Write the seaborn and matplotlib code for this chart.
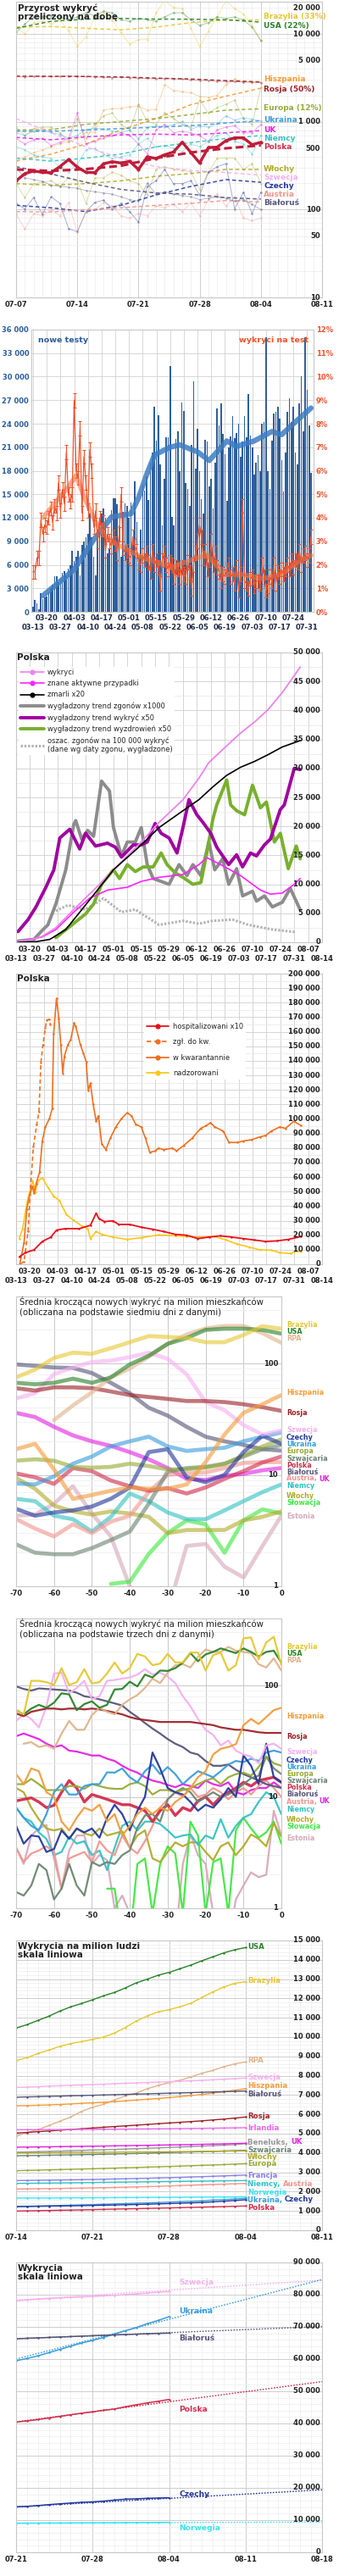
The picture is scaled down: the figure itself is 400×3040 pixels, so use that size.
import matplotlib
matplotlib.use("Agg")
import numpy as np
import pandas as pd
import matplotlib.pyplot as plt
import matplotlib.dates as mdates
import matplotlib.ticker as mticker
import matplotlib.transforms as mtransforms
from matplotlib.lines import Line2D
import seaborn as sns

W, H = 400, 3040

# ---------------- panel 1: daily new cases (log) ----------------
p1_start = "2020-07-07"
p1_brazylia = [12000, 10000, 13500, 14000, 13000, 14500, 11000, 7200, 9300, 15700, 17500, 14500, 10400, 7700, 8650,
               8650, 17500, 24000, 20000, 19500, 11650, 7200, 10800, 15700, 24000, 19500, 16900, 12500, 8650]
p1_brazylia_tr = [12000, 12200, 11650, 11200, 12000, 13500, 14500, 14500]
p1_usa = [10400, 13000, 15700, 15700, 16200, 15700, 14550, 15700, 17500, 16200, 18160, 17500, 14550, 14000, 15100,
          14550, 14000, 15700, 17500, 17500, 14550, 12540, 13500, 15700, 15100, 15700, 14550, 12000, 8400]
p1_usa_tr = [11650, 14000, 14800, 15100, 14800, 14800, 14550, 13700]
p1_hiszpania = [358, 400, 448, 480, 520, 560, 600, 650, 760, 760, 1360, 1410, 1430, 1480, 1510,
                1360, 1380, 2650, 2280, 2200, 2150, 1950, 1900, 2000, 2650, 3070, 2850, 2850, 2850]
p1_hiszpania_tr = [358, 430, 560, 810, 1090, 1570, 1960, 2420]
p1_rosja = [3300, 3250, 3300, 3300, 3280, 3300, 3320, 3300, 3280, 3250, 3230, 3200, 3220, 3180, 3150,
            3130, 3100, 3120, 3100, 3070, 3000, 2980, 2950, 2900, 2900, 2870, 2860, 2830, 2800]
p1_rosja_tr = [3320, 3300, 3290, 3250, 3150, 3080, 2950, 2850]
p1_europa = [871, 698, 840, 871, 871, 751, 601, 1090, 648, 938, 1170, 1260, 938, 809, 1580,
             1010, 938, 1260, 1090, 938, 871, 1770, 1260, 1460, 1580, 1770, 1090, 938, 2460]
p1_europa_tr = [809, 815, 938, 1010, 1090, 1210, 1360, 1410]
p1_ukraina = [751, 700, 780, 800, 760, 720, 650, 700, 820, 850, 830, 780, 760, 800, 640,
              860, 900, 880, 930, 1010, 820, 900, 870, 950, 1170, 1050, 1110, 1070, 1030]
p1_ukraina_tr = [780, 780, 809, 840, 871, 905, 970, 1030]
p1_uk = [648, 559, 625, 648, 539, 580, 648, 1260, 559, 601, 648, 698, 751, 698, 559,
         432, 809, 938, 751, 780, 751, 698, 601, 809, 871, 905, 751, 751, 938]
p1_uk_tr = [665, 625, 675, 710, 725, 710, 751, 795]
p1_niemcy = [519, 480, 420, 400, 380, 300, 270, 330, 480, 500, 430, 380, 400, 420, 560,
             650, 520, 540, 500, 460, 560, 520, 600, 700, 750, 600, 560, 430, 700]
p1_niemcy_tr = [386, 358, 386, 430, 519, 580, 648, 698]
p1_polska = [213, 257, 276, 266, 264, 309, 372, 305, 266, 264, 333, 352, 340, 355, 287,
             400, 383, 422, 454, 587, 448, 340, 511, 515, 611, 658, 658, 550, 585]
p1_polska_tr = [287, 276, 290, 316, 386, 448, 500, 540]
p1_wlochy = [198, 137, 198, 205, 213, 184, 230, 213, 118, 230, 230, 267, 247, 213, 198,
             147, 287, 309, 287, 280, 267, 170, 267, 386, 386, 386, 287, 333, 198]
p1_wlochy_tr = [198, 190, 198, 213, 240, 258, 287, 287]
p1_szwecja_tr = [1090, 751, 519, 386, 309, 280, 265, 247]
p1_czechy = [118, 102, 137, 88, 140, 118, 61, 56, 95, 121, 128, 102, 118, 95, 72,
             184, 213, 287, 198, 198, 213, 147, 267, 309, 333, 102, 158, 90, 158]
p1_czechy_tr = [112, 105, 95, 112, 147, 184, 220, 205]
p1_austria = [90, 60, 90, 85, 100, 85, 120, 55, 95, 100, 120, 110, 85, 80, 90,
              85, 110, 105, 115, 95, 120, 85, 130, 150, 110, 140, 80, 75, 80]
p1_austria_tr = [95, 94, 100, 105, 112, 118, 127, 122]
p1_bialorus = [300, 230, 220, 210, 190, 185, 180, 175, 165, 160, 155, 150, 140, 130, 125,
               200, 150, 160, 150, 145, 140, 130, 135, 140, 135, 125, 130, 115, 100]
p1_bialorus_tr = [309, 255, 205, 170, 155, 150, 137, 132]
p1_yticks = [10, 50, 100, 500, 1000, 5000, 10000, 20000]

# ---------------- panel 2: tests and positivity ----------------
p2_start = "2020-03-13"
p2_tests_k = [0.7, 1.5, 1.1, 0.3, 2.4, 1.6, 1.8,
              2.0, 2.5, 3.0, 3.5, 4.5, 4.5, 3.8,
              4.3, 5.0, 5.2, 4.7, 5.5, 6.0, 7.8,
              6.5, 7.0, 7.8, 4.7, 8.5, 9.0, 9.5,
              10.0, 12.5, 9.5, 7.0, 4.6, 10.5, 11.5,
              12.5, 13.2, 12.0, 7.5, 8.0, 13.0, 14.5,
              14.5, 13.7, 11.0, 7.0, 12.8, 13.8, 13.5,
              12.0, 14.0, 9.0,
              16.6, 11.5, 7.0, 10.5, 16.2, 15.5, 17.3,
              14.3, 19.0, 20.3, 26.2, 21.8, 25.1, 18.8,
              11.0, 17.0, 22.3, 22.3, 31.3, 12.1, 11.0,
              22.1, 23.0, 18.0, 26.7, 25.6, 16.4, 15.7,
              13.5, 21.3, 29.4, 18.3, 23.3, 18.0, 14.4,
              12.5, 22.0, 21.7, 16.0, 17.0, 13.2, 19.0,
              25.9, 23.8, 26.6, 22.7, 20.1, 14.2, 21.0,
              22.4, 25.0, 22.2, 22.8, 24.0, 19.8, 21.7,
              25.0, 22.3, 27.8, 22.5, 21.0, 17.5, 19.0,
              20.0, 18.0, 24.0, 24.2, 35.0, 18.0, 15.7,
              21.8, 25.3, 25.5, 26.2, 24.6, 19.3, 15.4,
              20.3, 25.5, 27.2, 24.2, 26.2, 20.3, 18.8,
              26.6, 30.0, 23.0, 35.0, 28.3, 23.8, 17.7]
p2_tests_trend_days = [5, 12, 21, 31, 38, 40, 47, 50, 54, 58, 62, 70, 75, 84, 90, 99, 104, 113, 122, 127, 133, 142]
p2_tests_trend_k = [2.05, 3.5, 5.4, 9.2, 11.4, 12.1, 12.4, 12.5, 14.6, 17.5, 20.0, 21.0, 21.3, 20.4, 19.3,
                    21.8, 21.1, 21.8, 23.0, 22.6, 24.0, 26.0]
p2_pos = [1.7, 1.7, 2.3, 2.3, 3.9, 3.3, 3.7,
          3.6, 4.0, 4.4, 3.8, 4.5, 4.2, 5.5,
          4.3, 5.2, 4.6, 6.8, 5.0, 4.7, 5.0,
          9.0, 6.0, 5.7, 7.8, 4.2, 6.6, 5.5,
          4.3, 6.9, 6.0, 3.6, 4.3, 3.0, 4.0,
          3.5, 3.8, 2.6, 3.3, 3.0, 2.8, 3.2,
          2.9, 2.5, 3.3, 5.0, 2.7, 2.5, 2.6,
          2.4, 2.3, 3.2, 2.8, 2.6, 2.1, 2.0,
          2.4, 2.2, 2.5, 2.1, 1.7, 2.6, 2.0,
          2.2, 1.9, 1.2, 2.2, 2.5, 2.0, 1.8,
          2.1, 2.0, 1.5, 1.9, 1.8, 1.5, 1.9,
          1.6, 1.5, 2.1, 1.7, 1.0, 2.0, 2.5,
          3.0, 3.7, 3.2, 2.3, 2.6, 1.8, 2.2,
          3.0, 2.0, 2.5, 1.9, 1.7, 1.3, 1.6,
          1.5, 1.8, 2.0, 1.5, 1.6, 1.2, 1.9,
          0.9, 1.6, 4.5, 1.3, 1.2, 1.0, 1.4,
          1.5, 1.1, 1.3, 1.3, 1.2, 2.0, 1.5,
          0.9, 1.1, 1.5, 1.3, 2.0, 1.2, 1.7,
          1.5, 1.8, 1.6, 1.8, 2.0, 1.8, 2.2,
          1.9, 2.2, 2.1, 2.6, 2.0, 2.4, 2.5,
          2.2, 2.4, 3.2]
p2_pos_err = 0.3
p2_pos_trend_days = [5, 12, 18, 22, 26, 32, 36, 41, 49, 59, 71, 84, 89, 98, 107, 117, 127, 135, 142]
p2_pos_trend = [4.0, 4.7, 5.3, 5.8, 4.9, 3.8, 3.3, 2.95, 2.6, 2.2, 1.9, 2.3, 2.4, 1.6, 1.6, 1.4, 1.6, 2.1, 2.4]

# ---------------- panel 3: Polska cumulative ----------------
p3_wykryci_d = [1, 7, 13, 20, 29, 42, 49, 56, 63, 72, 84, 92, 97, 106, 113, 120, 127, 134, 140, 143]
p3_wykryci = [150, 400, 1000, 2500, 5650, 10000, 12500, 14900, 17300, 20700, 24600, 28300, 31000, 33900,
              36100, 38000, 40200, 43100, 46000, 47500]
p3_aktywne_d = [1, 13, 20, 29, 37, 46, 56, 63, 72, 84, 92, 96, 103, 113, 123, 128, 134, 140, 143]
p3_aktywne = [100, 900, 2200, 5200, 7600, 9000, 9500, 10500, 11200, 11700, 13400, 14600, 13400, 11500,
              9000, 8300, 8500, 10000, 11000]
p3_zmarli_d = [1, 10, 17, 25, 33, 40, 49, 63, 72, 84, 92, 99, 106, 113, 120, 127, 134, 143]
p3_zmarli = [0, 100, 500, 2200, 5600, 8600, 12500, 16800, 19800, 22700, 24600, 26800, 28800, 30200,
             31200, 32400, 33700, 34800]
p3_zgony_d = [1, 9, 13, 16, 20, 25, 29, 30, 33, 36, 39, 43, 47, 49, 53, 56, 60, 63, 66, 69, 73, 77, 82, 86,
              89, 93, 97, 100, 104, 107, 111, 114, 119, 121, 125, 129, 134, 138, 143]
p3_zgony = [200, 500, 2000, 3000, 6600, 12500, 20300, 21000, 17800, 19300, 18300, 27800, 26100, 19800,
            14900, 17300, 17300, 19800, 13400, 11000, 10500, 10000, 13400, 11500, 13400, 11500, 17300,
            12500, 14400, 10000, 12700, 8000, 8800, 7100, 8000, 6100, 6900, 9300, 5600]
p3_trend_wyk_d = [1, 6, 10, 15, 19, 22, 27, 32, 35, 40, 46, 50, 53, 59, 63, 66, 70, 73, 77, 81, 84, 87, 91,
                  94, 98, 101, 104, 107, 111, 114, 118, 121, 125, 128, 133, 135, 140, 143]
p3_trend_wyk = [1850, 3900, 6100, 9500, 12500, 18000, 19500, 16100, 18800, 16600, 17100, 16400, 14700,
                16800, 16800, 17300, 20500, 18800, 18000, 15400, 19800, 24600, 22000, 20700, 18800, 16400,
                14900, 13400, 15100, 13000, 15400, 14900, 16800, 17800, 22900, 23700, 30000, 29800]
p3_wyzdr_d = [20, 27, 35, 39, 43, 49, 52, 56, 60, 64, 69, 73, 76, 80, 84, 89, 93, 96, 99, 101, 106, 108,
              111, 115, 119, 123, 126, 130, 133, 137, 141, 143]
p3_wyzdr = [800, 2700, 4900, 6600, 10000, 12500, 11000, 13400, 12200, 13000, 13000, 15400, 13400, 12000,
            11200, 10000, 10300, 15400, 21200, 23700, 28000, 23700, 22700, 22000, 27100, 23200, 24200,
            17300, 18800, 12700, 16600, 14400]
p3_oszac_d = [20, 26, 35, 44, 53, 60, 72, 84, 92, 99, 109, 117, 129, 141]
p3_oszac = [5400, 6400, 5650, 7600, 5200, 5650, 3000, 3700, 3200, 3700, 3900, 3000, 2200, 1750]
p3_labels = ["wykryci", "znane aktywne przypadki", "zmarli x20", "wygładzony trend zgonów x1000",
             "wygładzony trend wykryć x50", "wygładzony trend wyzdrowień x50",
             "oszac. zgonów na 100 000 wykryć\n(dane wg daty zgonu, wygładzone)"]

# ---------------- panel 4: Polska quarantine ----------------
p4_zgl_d = [2, 4, 6, 7.3, 8.7, 10.4, 11.5, 12.5, 13.5, 14.7, 15.4, 16.8, 17.2]
p4_zgl = [0, 2000, 22500, 53700, 80900, 96400, 105000, 139000, 150900, 162500, 168000, 168700, 165000]
p4_kw_d = [1.8, 4.0, 5.4, 6.8, 8.3, 9.0, 10.1, 11.8, 13.2, 14.7, 16.8, 18.2, 18.9, 20.3, 21.5, 22.5, 23.5,
           24.3, 26.0, 27.5, 29.2, 30.0, 32.4, 33.9, 35.3, 36.3, 37.4, 38.8, 40.3, 41.4, 43.1, 45.2, 47.4,
           50.2, 53.1, 55.9, 58.0, 60.2, 63.0, 65.1, 67.3, 70.1, 71.6, 74.4, 78.7, 80.8, 84.4, 88.6, 92.9,
           95.7, 97.9, 100.0, 104.3, 107.1, 111.4, 114.2, 118.5, 122.8, 125.6, 128.4, 132.7, 135.6, 139.8, 143.4]
p4_kw = [0, 14800, 38100, 47800, 53700, 48800, 55600, 63400, 84800, 94500, 100300, 107100, 158600, 182900,
         169300, 150900, 131400, 143100, 150900, 154700, 166000, 163700, 150900, 145000, 139200, 119700,
         124600, 110000, 98400, 102200, 82800, 78900, 86700, 94500, 100300, 104200, 102200, 96400, 94500,
         86700, 77000, 78000, 79900, 78900, 79900, 78000, 81800, 86700, 93500, 95400, 97400, 94500, 91600,
         83800, 83800, 84800, 85700, 87700, 88600, 91600, 94500, 93500, 98400, 95400]
p4_nadz_d = [1.6, 3.3, 5.4, 6.8, 8.3, 9.7, 11.1, 13.2, 16.1, 18.9, 21.8, 25.3, 28.9, 33.1, 36.0, 37.4, 40.3,
             43.1, 48.8, 55.9, 63.0, 71.6, 80.1, 85.8, 91.5, 100.0, 105.7, 111.4, 117.1, 122.8, 128.4, 132.7,
             138.4, 139.8, 143.4]
p4_nadz = [17700, 24500, 42000, 49800, 57500, 49800, 57500, 59500, 52700, 46900, 43900, 34200, 30300, 26400,
           24500, 17700, 22500, 20600, 18700, 17100, 18300, 20200, 19600, 19100, 18700, 19100, 16700, 13800,
           11900, 9900, 9700, 8000, 7400, 8600, 8900]
p4_hosp_d = [1.6, 4.7, 9.0, 13.2, 17.5, 20.3, 24.6, 31.7, 37.4, 40.3, 41.7, 44.5, 48.8, 51.6, 57.3, 63.0,
             68.7, 74.4, 80.1, 85.8, 91.5, 97.2, 102.8, 108.5, 114.2, 119.9, 125.6, 131.3, 137.0, 143.4]
p4_hosp = [5100, 8000, 9900, 15700, 18700, 23500, 24500, 24500, 26800, 35200, 31300, 29400, 29900, 27400,
           27400, 25500, 24100, 22500, 20600, 20000, 17700, 18700, 19600, 18700, 17700, 16700, 15700, 16100,
           17100, 19100]
p4_labels = ["hospitalizowani x10", "zgł. do kw.", "w kwarantannie", "nadzorowani"]

# ---------------- panel 5: 7-day average per million (log) ----------------
p5_days = list(range(-70, 1, 5))
p5_brazylia = [75, 88, 112, 125, 122, 137, 155, 176, 173, 169, 155, 155, 180, 216, 205]
p5_usa = [67, 65, 67, 73, 67, 75, 98, 117, 150, 169, 200, 205, 205, 200, 185]
p5_rpa = [31, 42, 55, 75, 90, 115, 150, 182, 206, 217, 217, 187, 153]          # from -60
p5_hiszpania = [17, 19, 11.2, 6.1, 6.6, 7.2, 7.7, 7.5, 7.5, 8.2, 13, 23, 36, 43, 52]
p5_rosja = [60, 57, 61, 61, 60, 56, 52, 50, 48, 46, 46, 45, 43, 40.5, 37.5]
p5_szwecja = [48.6, 54, 80, 92, 103, 106, 114, 125, 110, 80, 45, 38, 28, 23, 25]
p5_czechy = [4.95, 4.3, 4.6, 4.8, 5.2, 6.1, 7.7, 16, 17, 9.5, 8.6, 10, 16, 22.4, 19]
p5_ukraina = [8.4, 8.2, 9.7, 12.6, 14.6, 18, 20, 22, 18, 16.4, 17, 17.5, 20, 22, 24]
p5_europa = [13.4, 13.8, 13.4, 11.8, 11.6, 11.8, 12.6, 12, 11.2, 11.2, 11.6, 12.5, 14.9, 18, 20.8]
p5_szwajcaria = [2.38, 2.0, 1.94, 1.94, 2.2, 2.6, 3.1, 5.5, 10.7, 11.5, 11.8, 12.6, 14.6, 17, 18.5]
p5_polska = [10.3, 9.5, 8.3, 11.5, 10.8, 8.9, 7.9, 7.2, 7.6, 6.8, 7.7, 9.2, 10.8, 12.9, 14.6]
p5_bialorus = [98, 95, 92, 91, 82, 67, 54, 40, 34, 27, 22, 20, 18.6, 17, 16.5]
p5_austria = [4.0, 3.3, 2.8, 3.6, 3.0, 3.8, 4.3, 7.0, 10, 10.3, 10.5, 11.5, 12.8, 13, 13]
p5_uk = [36, 33, 27, 22.6, 20, 18.2, 16, 13.8, 11.5, 9.2, 9, 9.8, 10.2, 11, 11.5]
p5_niemcy = [6.1, 5.8, 4.3, 4.0, 3.1, 4.2, 6.8, 5.8, 4.6, 4.0, 4.0, 4.8, 5.8, 7.0, 8.2]
p5_wlochy = [9.4, 7.5, 5.3, 4.7, 4.4, 4.7, 4.5, 4.2, 3.0, 3.2, 3.2, 3.2, 3.9, 4.2, 4.7]
p5_slowacja = [1.05, 1.1, 1.95, 3.0, 3.9, 3.6, 2.0, 3.9, 4.9, 4.5]                 # from -45
p5_estonia = [4.3, 4.4, 5.5, 7.9, 4.5, 2.8, 1.0, 0.6, 0.6, 2.3, 2.4, 1.5, 1.2, 2.3, 4.3]

# ---------------- panel 6: 3-day average per million (log) ----------------
p6_days = list(range(-70, 1, 2))
p6_brazylia = [60, 55, 110, 110, 107, 101, 143, 101, 107, 140, 104, 107, 128, 161, 128, 143, 192, 182, 152, 157,
               192, 161, 161, 197, 197, 136, 187, 197, 136, 152, 265, 270, 171, 243, 273, 152]
p6_usa = [60, 55, 62, 67, 63, 70, 85, 83, 60, 68, 72, 63, 67, 92, 93, 108, 98, 125, 118, 136,
          135, 143, 160, 195, 165, 190, 200, 215, 205, 195, 215, 200, 182, 200, 205, 160]
p6_rpa = [30, 31, 28, 29, 27, 37, 48, 40, 40, 54, 63, 58, 55, 67, 75, 82, 95, 115, 105, 130,
          152, 155, 145, 180, 210, 200, 200, 222, 205, 200, 195, 155, 145, 175, 136]       # from -68
p6_hiszpania = [16, 13, 18, 17, 11, 10, 6, 5, 6.5, 8, 7.5, 8.5, 6, 7, 4.5, 5.5, 7, 8, 7, 8,
                7.5, 9, 10, 12, 15, 17, 24, 27, 28, 29.7, 44, 50, 45, 52, 60, 63]
p6_rosja = [56, 53, 58, 60, 62, 62, 61, 62, 62, 61, 62, 61, 59, 57, 55, 52, 50, 49, 48, 47,
            47, 47, 47, 47, 46, 45, 44, 42, 41, 40, 40, 39, 38, 37.5, 37.5, 37.5]
p6_szwecja = [48, 55, 50, 42, 65, 128, 130, 85, 95, 110, 75, 80, 110, 112, 115, 118, 125, 140, 125, 130,
              120, 105, 80, 65, 50, 40, 36, 29, 32, 26, 24, 23, 20, 29, 30, 27]
p6_czechy = [5.5, 3.8, 4.5, 4.4, 3.2, 3.4, 5.0, 4.2, 5.2, 4.8, 5.2, 4.3, 6.5, 8.5, 7.0, 5.0, 7.5, 10, 25, 18,
             12, 11, 10.5, 9.0, 7.5, 8.5, 8.0, 9.5, 12, 10, 23.5, 19, 13, 30, 15, 13.5]
p6_ukraina = [8, 6.5, 5.5, 5, 7, 11, 13, 10.5, 10.5, 12.5, 13, 13, 16.6, 16.5, 18, 15, 13.5, 17, 19.5, 16,
              18.5, 16, 13, 15, 17, 16, 15, 17, 19.5, 21, 20.5, 22, 21, 25, 26, 25]
p6_europa = [13, 13, 14.5, 13, 11.5, 11.5, 11.5, 12.5, 12.5, 11.8, 13, 12.5, 12, 11.8, 11.8, 13, 13.5, 12.5,
             10.5, 11.5, 11.5, 11, 11.5, 12, 13, 14, 14.7, 13, 15, 16, 16.5, 15.5, 18.5, 23, 20, 19]
p6_szwajcaria = [1.4, 1.3, 1.6, 2.5, 2.2, 1.2, 1.5, 2.5, 1.6, 1.3, 2.6, 2.4, 2.6, 2.5, 3.0, 3.3, 5.3, 6.8, 7, 6,
                 9.5, 11, 12, 11, 9, 10, 11, 10, 10.5, 11.5, 13, 14.7, 15.5, 23, 18, 16]
p6_polska = [9.2, 9.5, 9.8, 9.0, 8.0, 8.4, 11, 14, 12, 9.0, 10.5, 10, 9.5, 9.0, 8.5, 8.5, 8.0, 7.5, 6.0, 7.5,
             8.5, 6.8, 8.0, 7.5, 9.2, 10, 8.5, 10, 11, 12, 13.5, 12.5, 14, 14.5, 15, 13.5]
p6_bialorus = [98, 93, 90, 94, 93, 92, 91, 90, 86, 80, 78, 75, 72, 69, 66, 58, 52, 46, 41, 37,
               33, 30, 28, 25, 24, 21, 19, 19, 19.5, 17.5, 16, 15, 14, 13, 12.5, 12]
p6_austria = [3.5, 2.6, 3.1, 3.3, 3.6, 3.2, 1.5, 2.8, 3.0, 3.2, 2.6, 4.0, 3.3, 3.0, 4.5, 3.5, 3.1, 4.0, 5.5, 8,
              9.5, 11, 10, 12, 10, 10.5, 12, 11, 9.5, 11, 12, 10.5, 12.5, 14, 12, 10]
p6_uk = [35, 37, 35, 33, 30, 28, 29, 26, 25.5, 24.5, 23.5, 23.5, 22, 21, 19, 17.5, 16.5, 15, 14, 13.5,
         12.8, 12.2, 13, 12.5, 12, 14, 13, 12.5, 13.5, 11, 10.5, 11.5, 12, 12, 13.5, 12]
p6_niemcy = [8, 6.5, 6, 4.8, 4.2, 3.0, 3.2, 4.4, 3.8, 4.0, 3.0, 3.3, 2.2, 3.5, 5.5, 6.0, 5.0, 6.0, 6.0, 5.7,
             5.0, 4.3, 4.5, 4.6, 3.7, 4.5, 4.2, 6.3, 4.3, 5.5, 6.5, 7.0, 9.0, 11, 10, 7]
p6_wlochy = [12, 11, 8, 6.3, 5.2, 5, 5.2, 4.2, 5.2, 4.7, 4.5, 5.2, 4.5, 4.7, 4.9, 3.5, 4.5, 5, 2.8, 2.6,
             3.2, 3.9, 3.6, 3.9, 3.9, 3.2, 2.7, 3.6, 3.9, 3.0, 3.6, 4.6, 4.2, 3.6, 5.8, 4.4]
p6_slowacja = [1.5, 1.5, 0.5, 0.5, 2.5, 2.8, 0.9, 2.5, 3.6, 3.1, 0.9, 6.0, 4.5, 0.9, 2.6, 2.8, 0.9, 5.0,
               6.5, 5.2, 4.3, 4.8, 6.0, 3.8]                                             # from -46
p6_estonia = [3.5, 2.5, 4.5, 5.2, 5.6, 2.8, 1.5, 3.3, 4.5, 4.5, 2.5, 3.0, 2.7, 1.0, 1.3, 0.9, 0.5, 0.5, 0.5,
              0.5, 0.5, 0.5, 2.5, 4.6, 3.0, 2.5, 0.9, 0.5, 0.5, 1.2, 1.6, 2.1, 1.9, 2.0, 7.5, 4.5]

# ---------------- panel 7: cases per million (linear) ----------------
p7_start = "2020-07-14"
p7_usa = [10469, 10643, 10862, 11081, 11346, 11565, 11740, 11930, 12135, 12311, 12544, 12807, 12997, 13202,
          13349, 13538, 13728, 13947, 14152, 14357, 14518, 14635]
p7_brazylia = [8787, 8933, 9152, 9327, 9518, 9663, 9766, 9883, 10000, 10205, 10497, 10833, 11097, 11301,
               11418, 11565, 11754, 12047, 12339, 12588, 12778, 12866]
p7_rpa = [4868, 5058, 5204, 5423, 5643, 5862, 6155, 6374, 6520, 6739, 6959, 7105, 7325, 7500, 7646, 7763,
          7939, 8129, 8275, 8465, 8611, 8714]
p7_szwecja = [7398, 7410, 7430, 7465, 7480, 7500, 7520, 7540, 7560, 7590, 7610, 7630, 7650, 7670, 7690, 7710,
              7735, 7760, 7790, 7820, 7850, 7880]
p7_hiszpania = [6447, 6455, 6470, 6490, 6510, 6540, 6570, 6600, 6625, 6660, 6700, 6740, 6780, 6820, 6870,
                6920, 6970, 7030, 7100, 7170, 7250, 7325]
p7_bialorus = [6886, 6902, 6915, 6931, 6944, 6960, 6972, 6990, 7003, 7018, 7033, 7050, 7062, 7080, 7094,
               7109, 7125, 7142, 7158, 7175, 7191, 7208]
p7_rosja = [5029, 5065, 5103, 5140, 5180, 5218, 5255, 5292, 5330, 5368, 5405, 5441, 5478, 5515, 5551, 5590,
            5628, 5665, 5710, 5753, 5808, 5862]
p7_irlandia = [5204, 5206, 5209, 5211, 5214, 5218, 5222, 5226, 5230, 5234, 5238, 5243, 5248, 5253, 5258, 5264,
               5270, 5277, 5284, 5291, 5299, 5307]
p7_beneluks = [4040, 4055, 4070, 4085, 4100, 4115, 4132, 4150, 4168, 4186, 4205, 4225, 4245, 4266, 4288, 4310,
               4333, 4357, 4382, 4408, 4440, 4480]
p7_uk = [4298, 4305, 4313, 4320, 4328, 4336, 4344, 4352, 4361, 4370, 4379, 4388, 4398, 4408, 4418, 4428,
         4439, 4450, 4462, 4475, 4489, 4503]
p7_szwajcaria = [3860, 3868, 3876, 3884, 3893, 3902, 3912, 3923, 3935, 3948, 3961, 3975, 3990, 4005, 4021,
                 4037, 4053, 4069, 4085, 4102, 4119, 4137]
p7_wlochy = [4006, 4010, 4014, 4018, 4022, 4026, 4030, 4034, 4038, 4042, 4046, 4050, 4055, 4060, 4065, 4070,
             4075, 4081, 4087, 4093, 4100, 4108]
p7_europa = [3085, 3098, 3112, 3126, 3141, 3156, 3171, 3186, 3202, 3218, 3234, 3251, 3268, 3285, 3303, 3321,
             3340, 3359, 3379, 3400, 3424, 3450]
p7_francja = [2573, 2580, 2588, 2596, 2604, 2613, 2622, 2632, 2643, 2655, 2667, 2680, 2694, 2709, 2724, 2740,
              2757, 2775, 2794, 2814, 2836, 2860]
p7_niemcy = [2427, 2433, 2439, 2445, 2451, 2458, 2465, 2472, 2479, 2486, 2493, 2500, 2507, 2514, 2521, 2529,
             2537, 2545, 2553, 2561, 2567, 2573]
p7_austria = [2134, 2142, 2150, 2158, 2167, 2176, 2185, 2195, 2206, 2218, 2231, 2245, 2260, 2276, 2293, 2311,
              2330, 2349, 2368, 2387, 2407, 2427]
p7_norwegia = [1667, 1669, 1671, 1673, 1675, 1677, 1680, 1683, 1686, 1689, 1692, 1695, 1698, 1701, 1704, 1707,
               1710, 1713, 1716, 1719, 1722, 1726]
p7_ukraina = [1228, 1241, 1255, 1269, 1283, 1298, 1314, 1330, 1347, 1364, 1382, 1400, 1419, 1438, 1458, 1478,
              1499, 1520, 1564, 1588, 1620, 1652]
p7_czechy = [1228, 1235, 1242, 1250, 1258, 1266, 1275, 1285, 1296, 1308, 1321, 1335, 1350, 1366, 1383, 1401,
             1420, 1440, 1470, 1505, 1540, 1579]
p7_polska = [994, 1005, 1015, 1026, 1036, 1047, 1058, 1070, 1082, 1094, 1106, 1118, 1131, 1144, 1157, 1171,
             1185, 1199, 1213, 1228, 1242, 1257]

# ---------------- panel 8: total cases (linear) ----------------
p8_start = "2020-07-21"
p8_trend_dates = ["2020-07-21", "2020-08-18"]
p8_szwecja = [78158, 78350, 78600, 78800, 79000, 79150, 79300, 79450, 79650, 79800, 80000, 80250, 80500, 80750, 80965]
p8_szwecja_tr = [78300, 84500]
p8_ukraina = [59474, 60200, 61000, 62000, 63000, 64000, 65000, 65800, 66700, 67800, 68800, 69800, 71000, 72000, 73158]
p8_ukraina_tr = [60000, 84700]
p8_bialorus = [66316, 66450, 66580, 66720, 66860, 66990, 67120, 67240, 67370, 67500, 67620, 67740, 67860, 67960, 68070]
p8_bialorus_tr = [66300, 70100]
p8_polska = [40439, 40800, 41200, 41700, 42200, 42700, 43200, 43600, 44100, 44500, 45200, 45800, 46400, 46900, 47456]
p8_polska_tr = [40500, 53000]
p8_czechy = [14123, 14250, 14500, 14800, 15050, 15300, 15500, 15650, 15900, 16200, 16500, 16600, 16750, 16850, 16930]
p8_czechy_tr = [14100, 19400]
p8_norwegia = [9035, 9050, 9065, 9080, 9095, 9110, 9125, 9140, 9160, 9180, 9200, 9220, 9245, 9270, 9298]
p8_norwegia_tr = [9040, 9390]

# ---------------- colours ----------------
COL = {"Brazylia": "#e6c832", "USA": "#2a832a", "RPA": "#dfb48c", "Hiszpania": "#f39c3a", "Rosja": "#9c2228",
       "Szwecja": "#f5b0ef", "Czechy": "#24399c", "Ukraina": "#3a9ddc", "Europa": "#97ab36",
       "Szwajcaria": "#6b8571", "Polska": "#d02e4c", "Białoruś": "#56567a", "Austria": "#f1968f",
       "UK": "#e322e3", "Niemcy": "#33c2c2", "Włochy": "#b1ab2c", "Słowacja": "#3ee83e", "Estonia": "#d6a9ba",
       "Irlandia": "#e86ae8", "Beneluks": "#999999", "Francja": "#8a82e6", "Norwegia": "#3ee4f0"}

sns.set_theme(style="whitegrid")
plt.rcParams["font.family"] = ["DejaVu Sans"]
plt.rcParams["axes.edgecolor"] = "#c8c8c8"
plt.rcParams["axes.linewidth"] = 0.8
plt.rcParams["grid.color"] = "#cfcfcf"
plt.rcParams["grid.linewidth"] = 0.6

fig = plt.figure(figsize=(W / 100, H / 100), dpi=100)
TXT = "#222222"


def add_ax(x0, y0, x1, y1):
    return fig.add_axes([x0 / W, 1 - y1 / H, (x1 - x0) / W, (y1 - y0) / H])


def ftext(x, y, s, **kw):
    return fig.text(x / W, 1 - y / H, s, **kw)


def ftext_parts(x, y, parts, **kw):
    r = fig.canvas.get_renderer()
    for s, c in parts:
        t = ftext(x, y, s, color=c, **kw)
        x = t.get_window_extent(r).x1


def line(ax, x, y, **kw):
    kw.setdefault("markeredgewidth", 0)
    sns.lineplot(x=list(x), y=list(y), ax=ax, estimator=None, sort=False, legend=False, **kw)


def days(start, offsets):
    base = pd.Timestamp(start)
    return [base + pd.Timedelta(days=float(o)) for o in offsets]


def spaced(v):
    return f"{v:,.0f}".replace(",", " ")


def inside_labels(ax, ticks, texts, px, size=6, color=TXT):
    w_px = ax.get_position().width * W
    tr = mtransforms.blended_transform_factory(ax.transAxes, ax.transData)
    for v, s in zip(ticks, texts):
        ax.text(1 - px / w_px, v, s, transform=tr, ha="right", va="center", fontsize=size,
                fontweight="bold", color=color, clip_on=False)


def bold_xlabels(ax, color=TXT):
    for t in ax.get_xticklabels(minor=False) + ax.get_xticklabels(minor=True):
        t.set_fontweight("bold")
        t.set_color(color)


def date_axis(ax, start, end, minor_daily=False, color=TXT, pad=3):
    ticks = pd.date_range(start, end, freq="7D")
    ax.set_xlim(mdates.date2num(pd.Timestamp(start)), mdates.date2num(pd.Timestamp(end)))
    ax.xaxis.set_major_locator(mticker.FixedLocator(mdates.date2num(ticks.to_pydatetime())))
    ax.xaxis.set_major_formatter(mticker.FixedFormatter([t.strftime("%m-%d") for t in ticks]))
    ax.tick_params(axis="x", which="both", length=0, pad=pad, labelsize=6)
    if minor_daily:
        ax.xaxis.set_minor_locator(mdates.DayLocator())
        ax.xaxis.set_minor_formatter(mticker.NullFormatter())
    bold_xlabels(ax, color)
    ax.set_xlabel("")
    ax.set_ylabel("")


def date_axis_rows(ax, start, end, color=TXT, pad_top=2.8, pad_bottom=10.6):
    # weekly ticks, labels alternating between an upper and a lower row
    ticks = pd.date_range(start, end, freq="7D")
    nums = mdates.date2num(ticks.to_pydatetime())
    labels = [t.strftime("%m-%d") for t in ticks]
    ax.xaxis.set_major_locator(mticker.FixedLocator(nums[1::2]))
    ax.xaxis.set_major_formatter(mticker.FixedFormatter(labels[1::2]))
    ax.xaxis.set_minor_locator(mticker.FixedLocator(nums[0::2]))
    ax.xaxis.set_minor_formatter(mticker.FixedFormatter(labels[0::2]))
    ax.tick_params(axis="x", which="major", length=0, pad=pad_top, labelsize=6)
    ax.tick_params(axis="x", which="minor", length=0, pad=pad_bottom, labelsize=6)
    bold_xlabels(ax, color)
    ax.set_xlabel("")
    ax.set_ylabel("")


def clean_y(ax):
    ax.tick_params(axis="y", which="both", length=0, labelleft=False, labelright=False)
    ax.set_ylabel("")


# ======================= panel 1 =======================
ax1 = add_ax(19, 2, 380, 351)
ax1.set_yscale("log")
d1 = pd.date_range(p1_start, periods=len(p1_polska), freq="D")
dt1 = d1[::4]
p1_series = [("Brazylia", p1_brazylia, p1_brazylia_tr), ("USA", p1_usa, p1_usa_tr),
             ("Hiszpania", p1_hiszpania, p1_hiszpania_tr), ("Rosja", p1_rosja, p1_rosja_tr),
             ("Europa", p1_europa, p1_europa_tr), ("Ukraina", p1_ukraina, p1_ukraina_tr),
             ("UK", p1_uk, p1_uk_tr), ("Niemcy", p1_niemcy, p1_niemcy_tr), ("Włochy", p1_wlochy, p1_wlochy_tr),
             ("Szwecja", None, p1_szwecja_tr), ("Czechy", p1_czechy, p1_czechy_tr),
             ("Austria", p1_austria, p1_austria_tr), ("Białoruś", p1_bialorus, p1_bialorus_tr)]
for name, daily, trend in p1_series:
    c = COL[name]
    if daily is not None:
        line(ax1, d1, daily, color=c, lw=0.7, alpha=0.4, marker="o", markersize=2)
    line(ax1, dt1, trend, color=c, lw=1.1, alpha=0.9, linestyle=(0, (3, 2)))
line(ax1, d1, p1_polska, color="#c01c3a", lw=2.4, marker="o", markersize=3)
line(ax1, dt1, p1_polska_tr, color="#c01c3a", lw=2.2, linestyle=(0, (3, 1.5)))
ax1.set_ylim(10, 23400)
ax1.yaxis.set_major_locator(mticker.FixedLocator([10, 100, 1000, 10000]))
ax1.yaxis.set_minor_locator(mticker.LogLocator(base=10, subs=np.arange(2, 10)))
ax1.yaxis.set_minor_formatter(mticker.NullFormatter())
clean_y(ax1)
date_axis(ax1, "2020-07-07", "2020-08-11", minor_daily=True)
ax1.grid(True, which="major", color="#cfcfcf", lw=0.7)
ax1.grid(True, which="minor", color="#ececec", lw=0.5)
inside_labels(ax1, p1_yticks, [spaced(v) for v in p1_yticks], 2, size=6)
ftext(21, 15, "Przyrost wykryć\nprzeliczony na dobę", fontsize=7.5, fontweight="bold", color=TXT,
      va="center", linespacing=1.05)
p1_lab = [("Brazylia (33%)", "Brazylia", 20), ("USA (22%)", "USA", 30), ("Hiszpania", "Hiszpania", 93),
          ("Rosja (50%)", "Rosja", 106), ("Europa (12%)", "Europa", 127), ("Ukraina", "Ukraina", 141),
          ("UK", "UK", 153), ("Niemcy", "Niemcy", 163), ("Polska", "Polska", 173), ("Włochy", "Włochy", 200),
          ("Szwecja", "Szwecja", 210), ("Czechy", "Czechy", 220), ("Austria", "Austria", 229),
          ("Białoruś", "Białoruś", 239)]
for s, key, y in p1_lab:
    ftext(311, y, s, color=COL[key], fontsize=6.5, fontweight="bold", va="center")

# ======================= panel 2 =======================
ax2 = add_ax(37, 389, 370, 722)
d2 = pd.date_range(p2_start, periods=len(p2_tests_k), freq="D")
ax2.bar(d2, np.array(p2_tests_k) * 1000, width=0.72, color="#2f5f9a", linewidth=0)
line(ax2, days(p2_start, p2_tests_trend_days), np.array(p2_tests_trend_k) * 1000, color="#3d7dc2",
     lw=4.5, alpha=0.85, solid_capstyle="round")
ax2.set_ylim(0, 36000)
ax2.set_yticks(np.arange(0, 36001, 3000))
ax2.yaxis.set_major_formatter(mticker.FuncFormatter(lambda v, p: spaced(v)))
ax2.tick_params(axis="y", length=0, pad=2, labelsize=6, colors="#2b5d9c")
for t in ax2.get_yticklabels():
    t.set_fontweight("bold")
ax2.set_ylabel("")
p2_end = pd.Timestamp(p2_start) + pd.Timedelta(days=143.3)
p2_begin = pd.Timestamp(p2_start) - pd.Timedelta(days=0.87)
date_axis_rows(ax2, p2_start, "2020-07-31", color="#1e2a44", pad_top=2.4, pad_bottom=10.2)
ax2.set_xlim(mdates.date2num(p2_begin), mdates.date2num(p2_end))
ax2.grid(True, which="both", axis="x", color="#d2d2d2", lw=0.6)
ax2.grid(True, which="major", axis="y", color="#d2d2d2", lw=0.6)
ax2b = ax2.twinx()
ax2b.grid(False)
ax2b.errorbar(d2, p2_pos, yerr=p2_pos_err, color="#f0532a", lw=0.9, elinewidth=0.8, capsize=1.6,
              capthick=0.8)
line(ax2b, days(p2_start, p2_pos_trend_days), p2_pos_trend, color="#f27444", lw=4, alpha=0.6,
     solid_capstyle="round")
ax2b.set_ylim(0, 12)
ax2b.set_yticks(range(0, 13))
ax2b.yaxis.set_major_formatter(mticker.FuncFormatter(lambda v, p: f"{v:.0f}%"))
ax2b.tick_params(axis="y", length=0, pad=2, labelsize=6, colors="#f0532a")
for t in ax2b.get_yticklabels():
    t.set_fontweight("bold")
ax2b.set_ylabel("")
for sp in ax2b.spines.values():
    sp.set_visible(False)
ftext(45, 402, "nowe testy", color="#2b5d9c", fontsize=6.8, fontweight="bold", va="center")
ftext(364, 402, "wykryci na test", color="#f0532a", fontsize=6.8, fontweight="bold", va="center", ha="right")

# ======================= panel 3 =======================
ax3 = add_ax(19, 770, 380, 1112)
p3_base = "2020-03-13"
line(ax3, days(p3_base, p3_oszac_d), p3_oszac, color="#b4b4b4", lw=2.2, linestyle=(0, (0.8, 0.6)))
line(ax3, days(p3_base, p3_zgony_d), p3_zgony, color="#8c8c8c", lw=2.8)
line(ax3, days(p3_base, p3_wyzdr_d), p3_wyzdr, color="#78b02e", lw=2.8)
line(ax3, days(p3_base, p3_trend_wyk_d), p3_trend_wyk, color="#a000a0", lw=2.8)
line(ax3, days(p3_base, p3_aktywne_d), p3_aktywne, color="#ff22ff", lw=1.2)
line(ax3, days(p3_base, p3_wykryci_d), p3_wykryci, color="#ee82ee", lw=1.3)
line(ax3, days(p3_base, p3_zmarli_d), p3_zmarli, color="black", lw=1.2)
ax3.set_ylim(0, 50000)
ax3.set_xlim(mdates.date2num(pd.Timestamp("2020-03-13")), mdates.date2num(pd.Timestamp("2020-08-14")))
ax3.yaxis.set_major_locator(mticker.MultipleLocator(5000))
ax3.yaxis.set_minor_locator(mticker.MultipleLocator(2500))
clean_y(ax3)
date_axis_rows(ax3, "2020-03-13", "2020-08-14", pad_top=3.2, pad_bottom=10.6)
ax3.grid(True, which="both", axis="x", color="#cfcfcf", lw=0.6)
ax3.grid(True, which="major", axis="y", color="#cfcfcf", lw=0.6)
ax3.grid(True, which="minor", axis="y", color="#e8e8e8", lw=0.5)
inside_labels(ax3, range(0, 50001, 5000), [spaced(v) for v in range(0, 50001, 5000)], 2)
h3 = [Line2D([], [], color="#ee82ee", lw=1.2, marker="o", ms=3.5),
      Line2D([], [], color="#ff22ff", lw=1.2, marker="o", ms=3.5),
      Line2D([], [], color="black", lw=1.2, marker="o", ms=3.5),
      Line2D([], [], color="#8c8c8c", lw=2.8),
      Line2D([], [], color="#a000a0", lw=2.8),
      Line2D([], [], color="#78b02e", lw=2.8),
      Line2D([], [], color="#b4b4b4", lw=2.2, linestyle=(0, (0.8, 0.6)))]
ax3.legend(h3, p3_labels, loc="upper left", bbox_to_anchor=(22 / W, 1 - 787 / H), bbox_transform=fig.transFigure,
           fontsize=6, frameon=True, framealpha=1, edgecolor="none", facecolor="white", handlelength=3.3,
           labelspacing=0.5, borderpad=0.25, handletextpad=0.5, borderaxespad=0)
ftext(20, 776, "Polska", fontsize=7.5, fontweight="bold", color=TXT, va="center")

# ======================= panel 4 =======================
ax4 = add_ax(19, 1149, 380, 1492)
line(ax4, days(p3_base, p4_nadz_d), p4_nadz, color="#f8c81c", lw=1.2, marker="o", markersize=1.8)
line(ax4, days(p3_base, p4_zgl_d), p4_zgl, color="#f07020", lw=1.2, linestyle=(0, (3, 2)), marker="o",
     markersize=1.8)
line(ax4, days(p3_base, p4_kw_d), p4_kw, color="#f07020", lw=1.2, marker="o", markersize=1.8)
line(ax4, days(p3_base, p4_hosp_d), p4_hosp, color="#e8101c", lw=1.3, marker="o", markersize=1.8)
ax4.set_ylim(0, 200000)
ax4.set_xlim(mdates.date2num(pd.Timestamp("2020-03-13")), mdates.date2num(pd.Timestamp("2020-08-14")))
ax4.yaxis.set_major_locator(mticker.MultipleLocator(10000))
ax4.yaxis.set_minor_locator(mticker.MultipleLocator(5000))
clean_y(ax4)
date_axis_rows(ax4, "2020-03-13", "2020-08-14", pad_top=3.2, pad_bottom=10.6)
ax4.grid(True, which="both", axis="x", color="#cfcfcf", lw=0.6)
ax4.grid(True, which="major", axis="y", color="#cfcfcf", lw=0.6)
ax4.grid(True, which="minor", axis="y", color="#e8e8e8", lw=0.5)
inside_labels(ax4, range(0, 200001, 10000), [spaced(v) for v in range(0, 200001, 10000)], 2)
h4 = [Line2D([], [], color="#e8101c", lw=1.3, marker="o", ms=3.5),
      Line2D([], [], color="#f07020", lw=1.3, marker="o", ms=3.5, linestyle=(0, (3, 2))),
      Line2D([], [], color="#f07020", lw=1.3, marker="o", ms=3.5),
      Line2D([], [], color="#f8c81c", lw=1.3, marker="o", ms=3.5)]
ax4.legend(h4, p4_labels, loc="upper left", bbox_to_anchor=(170 / W, 1 - 1204 / H), bbox_transform=fig.transFigure,
           fontsize=6, frameon=True, framealpha=1, edgecolor="none", facecolor="white", handlelength=3.2,
           labelspacing=1.15, borderpad=0.3, handletextpad=0.6, borderaxespad=0)
ftext(20, 1155, "Polska", fontsize=7.5, fontweight="bold", color=TXT, va="center")

# ======================= panels 5 & 6 =======================
lab56 = [("Brazylia", 0), ("USA", 8), ("RPA", 16), ("Hiszpania", 81), ("Rosja", 105), ("Szwecja", 124),
         ("Czechy", 134), ("Ukraina", 142), ("Europa", 150), ("Szwajcaria", 158), ("Polska", 166),
         ("Białoruś", 174), ("Austria, UK", 182), ("Niemcy", 191), ("Włochy", 203), ("Słowacja", 211),
         ("Estonia", 226)]


def log_panel(ax, series, lw, alpha, top_px, title):
    for name, xs, ys in series:
        w = lw * (1.5 if name == "Polska" and lw < 2 else 1.0)
        line(ax, xs, ys, color=COL[name], lw=w, alpha=alpha, solid_joinstyle="round")
    ax.set_yscale("log")
    ax.set_ylim(1, 399)
    ax.set_xlim(-70, 0)
    ax.set_xticks(range(-70, 1, 10))
    ax.set_xticklabels([str(v) for v in range(-70, 1, 10)], fontsize=6, fontweight="bold", color=TXT)
    ax.tick_params(axis="x", length=0, pad=3)
    ax.yaxis.set_major_locator(mticker.FixedLocator([1, 10, 100]))
    ax.yaxis.set_minor_locator(mticker.LogLocator(base=10, subs=np.arange(2, 10)))
    ax.yaxis.set_minor_formatter(mticker.NullFormatter())
    clean_y(ax)
    ax.set_xlabel("")
    ax.grid(True, which="major", color="#c8c8c8", lw=0.7)
    ax.grid(True, which="minor", axis="y", color="#ececec", lw=0.5)
    inside_labels(ax, [1, 10, 100], ["1", "10", "100"], 4)
    ftext(23, top_px + 12, title, fontsize=7.3, color=TXT, va="center", linespacing=1.15)


ax5 = add_ax(19, 1530, 332, 1872)
s5 = [("Estonia", p5_days, p5_estonia), ("Słowacja", p5_days[5:], p5_slowacja), ("Włochy", p5_days, p5_wlochy),
      ("Niemcy", p5_days, p5_niemcy), ("UK", p5_days, p5_uk), ("Austria", p5_days, p5_austria),
      ("Białoruś", p5_days, p5_bialorus), ("Polska", p5_days, p5_polska),
      ("Szwajcaria", p5_days, p5_szwajcaria), ("Europa", p5_days, p5_europa), ("Ukraina", p5_days, p5_ukraina),
      ("Czechy", p5_days, p5_czechy), ("Szwecja", p5_days, p5_szwecja), ("Rosja", p5_days, p5_rosja),
      ("Hiszpania", p5_days, p5_hiszpania), ("RPA", p5_days[2:], p5_rpa), ("USA", p5_days, p5_usa),
      ("Brazylia", p5_days, p5_brazylia)]
log_panel(ax5, s5, 3.4, 0.62, 1530,
          "Średnia krocząca nowych wykryć na milion mieszkańców\n(obliczana na podstawie siedmiu dni z danymi)")

ax6 = add_ax(19, 1910, 332, 2252)
s6 = [("Estonia", p6_days, p6_estonia), ("Słowacja", p6_days[12:], p6_slowacja), ("Włochy", p6_days, p6_wlochy),
      ("Niemcy", p6_days, p6_niemcy), ("UK", p6_days, p6_uk), ("Austria", p6_days, p6_austria),
      ("Białoruś", p6_days, p6_bialorus), ("Polska", p6_days, p6_polska),
      ("Szwajcaria", p6_days, p6_szwajcaria), ("Europa", p6_days, p6_europa), ("Ukraina", p6_days, p6_ukraina),
      ("Czechy", p6_days, p6_czechy), ("Szwecja", p6_days, p6_szwecja), ("Rosja", p6_days, p6_rosja),
      ("Hiszpania", p6_days, p6_hiszpania), ("RPA", p6_days[1:], p6_rpa), ("USA", p6_days, p6_usa),
      ("Brazylia", p6_days, p6_brazylia)]
log_panel(ax6, s6, 1.6, 0.95, 1910,
          "Średnia krocząca nowych wykryć na milion mieszkańców\n(obliczana na podstawie trzech dni z danymi)")

for top in (1563, 1944):
    for s, dy in lab56:
        if s == "Austria, UK":
            ftext_parts(338, top + dy, [("Austria, ", COL["Austria"]), ("UK", COL["UK"])],
                        fontsize=5.8, fontweight="bold", va="center")
        else:
            ftext(338, top + dy, s, color=COL[s], fontsize=5.8, fontweight="bold", va="center")

# ======================= panel 7 =======================
ax7 = add_ax(19, 2290, 380, 2632)
d7 = pd.date_range(p7_start, periods=len(p7_usa), freq="D")
s7 = [("USA", p7_usa), ("Brazylia", p7_brazylia), ("RPA", p7_rpa), ("Szwecja", p7_szwecja),
      ("Hiszpania", p7_hiszpania), ("Białoruś", p7_bialorus), ("Rosja", p7_rosja), ("Irlandia", p7_irlandia),
      ("Beneluks", p7_beneluks), ("UK", p7_uk), ("Szwajcaria", p7_szwajcaria), ("Włochy", p7_wlochy),
      ("Europa", p7_europa), ("Francja", p7_francja), ("Niemcy", p7_niemcy), ("Austria", p7_austria),
      ("Norwegia", p7_norwegia), ("Ukraina", p7_ukraina), ("Czechy", p7_czechy), ("Polska", p7_polska)]
for name, ys in s7:
    line(ax7, d7, ys, color=COL[name], lw=1.0, marker="o", markersize=1.8)
ax7.set_ylim(0, 15000)
ax7.yaxis.set_major_locator(mticker.MultipleLocator(1000))
ax7.yaxis.set_minor_locator(mticker.MultipleLocator(200))
clean_y(ax7)
date_axis(ax7, "2020-07-14", "2020-08-11", minor_daily=True)
ax7.grid(True, which="major", color="#cdcdcd", lw=0.7)
ax7.grid(True, which="minor", color="#ededed", lw=0.5)
inside_labels(ax7, range(0, 15001, 1000), [spaced(v) for v in range(0, 15001, 1000)], 2)
ftext(21, 2302, "Wykrycia na milion ludzi\nskala liniowa", fontsize=7.5, fontweight="bold", color=TXT,
      va="center", linespacing=1.1)
lab7 = [("USA", 2297), ("Brazylia", 2338), ("RPA", 2432), ("Szwecja", 2452), ("Hiszpania", 2462),
        ("Białoruś", 2471), ("Rosja", 2498), ("Irlandia", 2511), ("Beneluks, UK", 2528), ("Szwajcaria", 2537),
        ("Włochy", 2545), ("Europa", 2553), ("Francja", 2568), ("Niemcy, Austria", 2577), ("Norwegia", 2588),
        ("Ukraina, Czechy", 2596), ("Polska", 2605)]
for s, y in lab7:
    if ", " in s:
        a, b = s.split(", ")
        ftext_parts(292, y, [(a + ", ", COL[a]), (b, COL[b])], fontsize=6.2, fontweight="bold", va="center")
    else:
        ftext(292, y, s, color=COL[s], fontsize=6.2, fontweight="bold", va="center")

# ======================= panel 8 =======================
ax8 = add_ax(19, 2670, 380, 3012)
d8 = pd.date_range(p8_start, periods=len(p8_polska), freq="D")
dtr8 = pd.to_datetime(p8_trend_dates)
s8 = [("Szwecja", p8_szwecja, p8_szwecja_tr), ("Ukraina", p8_ukraina, p8_ukraina_tr),
      ("Białoruś", p8_bialorus, p8_bialorus_tr), ("Polska", p8_polska, p8_polska_tr),
      ("Czechy", p8_czechy, p8_czechy_tr), ("Norwegia", p8_norwegia, p8_norwegia_tr)]
for name, ys, tr in s8:
    line(ax8, d8, ys, color=COL[name], lw=1.1, marker="o", markersize=1.8)
    line(ax8, dtr8, tr, color=COL[name], lw=1.0, linestyle=(0, (1.2, 1.2)))
ax8.set_ylim(0, 90000)
ax8.yaxis.set_major_locator(mticker.MultipleLocator(10000))
ax8.yaxis.set_minor_locator(mticker.MultipleLocator(2000))
clean_y(ax8)
date_axis(ax8, "2020-07-21", "2020-08-18", minor_daily=True)
ax8.grid(True, which="major", color="#cdcdcd", lw=0.7)
ax8.grid(True, which="minor", color="#ededed", lw=0.5)
inside_labels(ax8, range(0, 90001, 10000), [spaced(v) for v in range(0, 90001, 10000)], 2)
ftext(21, 2682, "Wykrycia\nskala liniowa", fontsize=7.5, fontweight="bold", color=TXT, va="center",
      linespacing=1.1)
for s, y in [("Szwecja", 2693), ("Ukraina", 2727), ("Białoruś", 2760), ("Polska", 2844), ("Czechy", 2943),
             ("Norwegia", 2984)]:
    ftext(211, y, s, color=COL[s], fontsize=6.6, fontweight="bold", va="center")

fig.savefig("out.png", dpi=100)
